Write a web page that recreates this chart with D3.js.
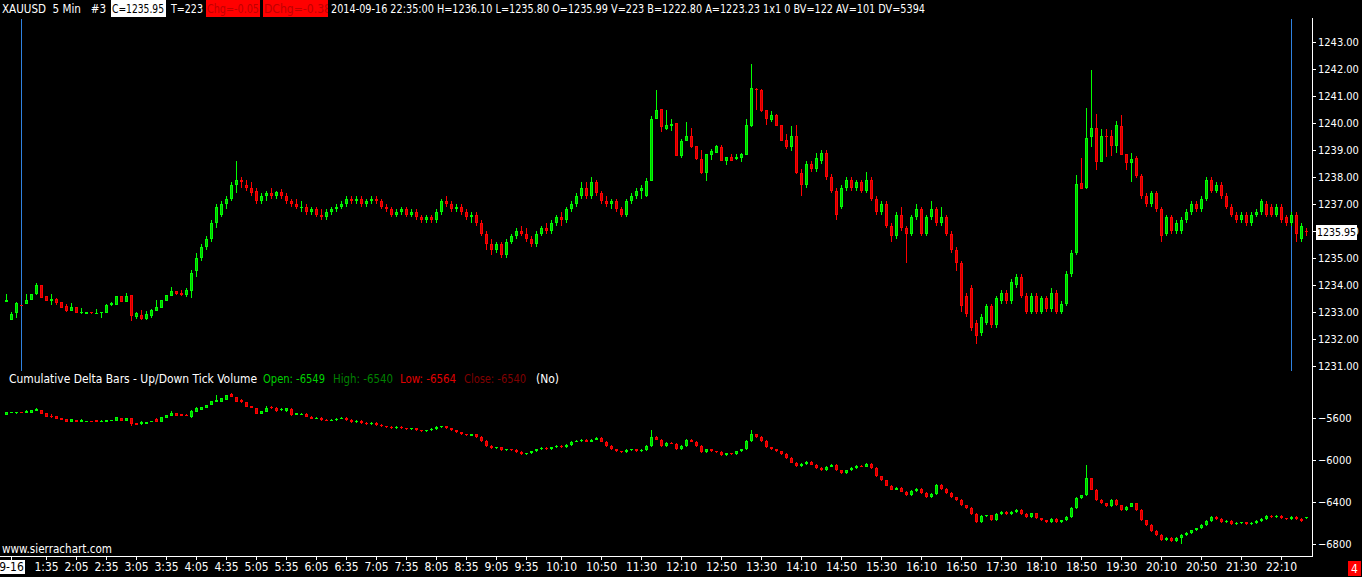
<!DOCTYPE html>
<html>
<head>
<meta charset="utf-8">
<script src="https://cdn.jsdelivr.net/npm/d3@7"></script>
<style>
  html, body { margin: 0; padding: 0; background: #000; overflow: hidden; }
  svg { display: block; }
  text { white-space: pre; }
</style>
</head>
<body>
<svg id="chart" width="1362" height="577"></svg>
<script>
// ---- data ----
const firstBarMinutes = 55;          // first bar is 0:55, 5 min bars
const barMinutes = 5;

// time axis labels: [bar time, label shown]
const timeTicks = [
  ["1:00", "9-16"], ["1:35", "1:35"], ["2:05", "2:05"], ["2:35", "2:35"], ["3:05", "3:05"],
  ["3:35", "3:35"], ["4:05", "4:05"], ["4:35", "4:35"], ["5:05", "5:05"], ["5:35", "5:35"],
  ["6:05", "6:05"], ["6:35", "6:35"], ["7:05", "7:05"], ["7:35", "7:35"], ["8:05", "8:05"],
  ["8:35", "8:35"], ["9:05", "9:05"], ["9:35", "9:35"], ["10:10", "10:10"], ["10:50", "10:50"],
  ["11:30", "11:30"], ["12:10", "12:10"], ["12:50", "12:50"], ["13:30", "13:30"], ["14:10", "14:10"],
  ["14:50", "14:50"], ["15:30", "15:30"], ["16:10", "16:10"], ["16:50", "16:50"], ["17:30", "17:30"],
  ["18:10", "18:10"], ["18:50", "18:50"], ["19:30", "19:30"], ["20:10", "20:10"], ["20:50", "20:50"],
  ["21:30", "21:30"], ["22:10", "22:10"]
];

const priceTicks = [1243, 1242, 1241, 1240, 1239, 1238, 1237, 1236, 1235, 1234, 1233, 1232, 1231];
const deltaTicks = [-5600, -6000, -6400, -6800];
const lastPrice = 1235.95;
const sessionLines = ["1:10", "22:20"];   // blue vertical markers

// XAUUSD 5 min bars: [open, high, low, close]
const priceBars = [
  [1233.36,1233.66,1233.36,1233.44],[1232.71,1232.99,1232.70,1232.92],[1232.96,1233.36,1232.77,1233.33],[1233.25,1233.26,1233.22,1233.23],
  [1233.30,1233.66,1233.30,1233.44],[1233.45,1233.66,1233.42,1233.66],[1233.65,1234.07,1233.64,1233.99],[1233.99,1234.00,1233.50,1233.52],
  [1233.59,1233.60,1233.40,1233.41],[1233.41,1233.66,1233.26,1233.47],[1233.49,1233.51,1233.25,1233.34],[1233.35,1233.36,1233.14,1233.15],
  [1233.21,1233.29,1232.99,1233.04],[1233.04,1233.32,1233.02,1233.17],[1233.17,1233.18,1232.96,1232.97],[1232.94,1233.13,1232.92,1232.99],
  [1232.93,1233.01,1232.92,1233.00],[1232.99,1233.00,1232.93,1232.94],[1232.94,1233.09,1232.93,1232.97],[1232.94,1233.00,1232.78,1232.99],
  [1232.97,1233.29,1232.94,1233.26],[1233.24,1233.35,1233.23,1233.33],[1233.26,1233.59,1233.25,1233.58],[1233.59,1233.60,1233.36,1233.37],
  [1233.37,1233.69,1233.35,1233.59],[1233.62,1233.63,1232.67,1232.86],[1232.82,1233.00,1232.72,1232.94],[1232.88,1233.07,1232.71,1232.72],
  [1232.72,1233.02,1232.71,1232.92],[1232.86,1233.09,1232.78,1233.06],[1233.04,1233.44,1233.03,1233.18],[1233.15,1233.45,1233.14,1233.44],
  [1233.41,1233.63,1233.40,1233.62],[1233.60,1233.92,1233.59,1233.77],[1233.77,1233.78,1233.64,1233.65],[1233.69,1233.81,1233.59,1233.62],
  [1233.62,1233.89,1233.56,1233.81],[1233.78,1234.55,1233.51,1234.43],
  [1234.50,1235.20,1234.30,1235.00],[1235.00,1235.50,1234.90,1235.40],[1235.40,1235.80,1235.30,1235.70],[1235.70,1236.40,1235.60,1236.30],
  [1236.30,1237.00,1236.10,1236.90],[1236.60,1237.10,1236.50,1237.00],[1237.00,1237.30,1236.80,1237.20],[1237.20,1237.80,1237.10,1237.70],
  [1237.70,1238.60,1237.40,1237.90],[1237.90,1238.00,1237.60,1237.80],[1237.70,1237.90,1237.50,1237.60],[1237.60,1237.80,1237.30,1237.40],
  [1237.50,1237.60,1237.00,1237.10],[1237.10,1237.40,1237.00,1237.30],[1237.30,1237.50,1237.10,1237.40],[1237.40,1237.60,1237.20,1237.30],
  [1237.30,1237.50,1237.20,1237.45],[1237.45,1237.55,1237.20,1237.30],[1237.30,1237.40,1237.00,1237.10],[1237.10,1237.20,1236.90,1237.00],
  [1237.00,1237.20,1236.80,1236.90],[1236.90,1237.10,1236.70,1236.90],[1236.90,1237.00,1236.60,1236.70],[1236.70,1236.90,1236.60,1236.80],
  [1236.80,1236.90,1236.50,1236.60],[1236.60,1236.80,1236.40,1236.50],[1236.50,1236.80,1236.40,1236.70],[1236.70,1236.90,1236.60,1236.80],
  [1236.80,1237.00,1236.70,1236.90],[1236.90,1237.10,1236.80,1237.00],[1237.00,1237.30,1236.90,1237.20],[1237.20,1237.30,1237.00,1237.10],
  [1237.10,1237.30,1237.00,1237.20],[1237.20,1237.30,1236.90,1237.00],[1237.00,1237.20,1236.90,1237.10],[1237.10,1237.30,1237.00,1237.20],
  [1237.20,1237.30,1237.00,1237.10],[1237.10,1237.20,1236.80,1236.90],[1236.90,1237.00,1236.70,1236.80],[1236.80,1236.90,1236.50,1236.60],
  [1236.60,1236.80,1236.50,1236.70],[1236.70,1236.90,1236.60,1236.80],[1236.80,1236.90,1236.50,1236.60],[1236.60,1236.80,1236.50,1236.70],
  [1236.70,1236.80,1236.40,1236.50],[1236.50,1236.60,1236.30,1236.40],[1236.40,1236.60,1236.30,1236.50],[1236.50,1236.60,1236.30,1236.40],
  [1236.40,1236.80,1236.30,1236.70],[1236.70,1237.20,1236.60,1237.10],[1237.10,1237.30,1236.90,1237.00],[1237.00,1237.10,1236.70,1236.80],
  [1236.80,1237.00,1236.70,1236.90],[1236.90,1237.00,1236.60,1236.70],[1236.70,1236.80,1236.40,1236.50],[1236.50,1236.70,1236.30,1236.60],
  [1236.60,1236.70,1236.20,1236.30],[1236.30,1236.40,1235.80,1235.90],[1235.90,1236.00,1235.30,1235.50],[1235.50,1235.70,1235.10,1235.30],
  [1235.30,1235.60,1235.20,1235.50],[1235.50,1235.60,1235.00,1235.10],[1235.10,1235.70,1235.00,1235.60],[1235.60,1235.90,1235.50,1235.80],
  [1235.80,1236.10,1235.70,1236.00],[1236.00,1236.20,1235.80,1235.90],[1235.90,1236.10,1235.60,1235.70],[1235.70,1235.80,1235.40,1235.50],
  [1235.50,1236.00,1235.40,1235.90],[1235.90,1236.20,1235.80,1236.10],[1236.10,1236.30,1235.90,1236.00],[1236.00,1236.40,1235.90,1236.30],
  [1236.30,1236.60,1236.20,1236.50],[1236.50,1236.70,1236.20,1236.40],[1236.40,1236.90,1236.30,1236.80],[1236.80,1237.10,1236.70,1237.00],
  [1237.00,1237.40,1236.90,1237.30],[1237.30,1237.80,1237.20,1237.60],[1237.60,1237.80,1237.20,1237.30],[1237.30,1238.00,1237.20,1237.80],
  [1237.80,1237.90,1237.30,1237.40],[1237.40,1237.50,1237.00,1237.10],[1237.10,1237.30,1236.90,1237.00],[1237.00,1237.20,1236.80,1237.10],
  [1237.10,1237.20,1236.70,1236.80],[1236.80,1236.90,1236.50,1236.60],[1236.60,1237.20,1236.50,1237.10],[1237.10,1237.40,1237.00,1237.30],
  [1237.30,1237.60,1237.20,1237.50],[1237.50,1237.70,1237.20,1237.60],
  [1237.30,1237.95,1237.25,1237.86],[1237.86,1240.27,1237.85,1240.15],[1240.17,1241.23,1240.15,1240.49],[1240.51,1240.53,1239.68,1239.85],
  [1239.79,1240.49,1239.75,1239.92],[1239.91,1240.15,1239.72,1239.97],[1239.99,1240.00,1238.78,1238.79],[1238.79,1239.40,1238.72,1239.33],
  [1239.35,1240.04,1239.34,1239.52],[1239.51,1239.82,1239.07,1239.13],[1239.16,1239.17,1238.63,1238.67],[1238.67,1239.00,1238.13,1238.14],
  [1238.14,1238.86,1237.86,1238.84],[1238.82,1239.04,1238.63,1238.98],[1238.90,1239.19,1238.89,1239.15],[1239.10,1239.19,1238.60,1238.61],
  [1238.61,1238.74,1238.45,1238.73],[1238.73,1238.86,1238.60,1238.61],[1238.66,1238.84,1238.63,1238.76],[1238.72,1238.88,1238.57,1238.84],
  [1238.82,1240.14,1238.81,1239.93],[1239.91,1242.19,1239.87,1241.29],[1241.27,1241.30,1240.49,1241.23],[1241.23,1241.27,1240.42,1240.46],
  [1240.49,1240.50,1239.93,1240.14],[1240.12,1240.45,1240.04,1240.30],[1240.30,1240.34,1239.90,1239.91],[1239.93,1239.94,1239.32,1239.35],
  [1239.37,1239.60,1239.03,1239.13],[1239.13,1239.89,1238.98,1239.52],[1239.52,1239.93,1238.13,1238.14],
  [1238.14,1238.30,1237.30,1237.70],[1237.70,1238.60,1237.60,1238.50],[1238.50,1238.60,1238.20,1238.30],[1238.30,1238.90,1238.20,1238.70],
  [1238.60,1239.00,1238.50,1238.90],[1238.90,1239.00,1237.90,1238.00],[1238.00,1238.10,1237.40,1237.50],[1237.50,1237.60,1236.40,1236.60],
  [1236.90,1237.70,1236.80,1237.60],[1237.60,1238.00,1237.50,1237.90],[1237.90,1238.00,1237.50,1237.60],[1237.60,1237.90,1237.50,1237.80],
  [1237.80,1237.90,1237.40,1237.50],[1237.50,1238.20,1237.40,1237.90],[1237.90,1238.00,1237.10,1237.20],[1237.20,1237.30,1236.60,1236.70],
  [1236.70,1237.10,1236.60,1237.00],[1237.00,1237.10,1236.10,1236.20],[1236.20,1236.30,1235.60,1235.80],[1235.80,1236.70,1235.70,1236.60],
  [1236.60,1236.90,1236.00,1236.10],[1236.10,1236.20,1234.80,1235.90],[1235.90,1236.60,1235.80,1236.50],[1236.50,1237.00,1236.40,1236.80],
  [1236.80,1236.90,1235.80,1235.90],[1235.90,1236.60,1235.80,1236.50],[1236.50,1237.10,1236.40,1236.80],[1236.80,1236.90,1236.20,1236.30],
  [1236.30,1236.90,1236.20,1236.50],[1236.50,1236.60,1235.80,1235.90],[1235.90,1236.00,1235.20,1235.30],[1235.30,1235.40,1234.50,1234.80],
  [1234.80,1234.90,1233.00,1233.20],[1233.60,1233.70,1232.80,1232.90],[1233.90,1234.00,1232.30,1232.40],[1232.60,1232.70,1231.80,1232.10],
  [1232.20,1232.90,1232.10,1232.80],[1232.60,1233.30,1232.50,1233.20],[1233.20,1233.30,1232.40,1232.50],[1232.50,1233.60,1232.40,1233.50],
  [1233.40,1233.80,1233.30,1233.70],[1233.70,1233.80,1233.30,1233.40],[1233.40,1234.20,1233.30,1234.10],[1234.00,1234.40,1233.90,1234.30],
  [1234.30,1234.40,1233.50,1233.60],[1233.60,1233.70,1232.90,1233.00],[1233.00,1233.70,1232.90,1233.60],[1233.60,1233.70,1232.90,1233.00],
  [1233.00,1233.60,1232.90,1233.50],[1233.50,1233.60,1233.00,1233.10],[1233.10,1233.90,1233.00,1233.70],[1233.70,1233.80,1232.90,1233.00],
  [1233.00,1233.40,1232.90,1233.30],[1233.30,1234.50,1233.20,1234.40],[1234.40,1235.30,1234.30,1235.20],
  [1235.20,1238.08,1235.10,1237.74],[1237.77,1238.72,1237.55,1237.56],[1237.58,1240.55,1237.57,1239.44],[1239.47,1241.97,1239.13,1239.81],
  [1239.81,1240.33,1238.26,1238.57],[1238.57,1239.78,1238.56,1239.52],[1239.52,1239.78,1238.76,1239.47],[1239.52,1239.75,1238.78,1239.16],
  [1239.16,1240.08,1238.90,1239.93],[1239.89,1240.30,1238.80,1238.82],[1238.86,1238.87,1238.26,1238.53],[1238.53,1238.88,1237.83,1238.67],
  [1238.72,1238.78,1237.98,1238.05],
  [1238.05,1238.10,1237.20,1237.30],[1237.30,1237.40,1236.90,1237.00],[1237.00,1237.50,1236.90,1237.40],[1237.40,1237.50,1236.70,1236.80],
  [1236.80,1236.90,1235.60,1235.80],[1235.90,1236.60,1235.80,1236.50],[1236.50,1236.60,1235.90,1236.00],[1236.00,1236.40,1235.90,1236.30],
  [1236.00,1236.50,1235.90,1236.40],[1236.40,1236.80,1236.30,1236.70],[1236.70,1237.10,1236.60,1237.00],[1237.00,1237.10,1236.70,1236.80],
  [1236.80,1237.30,1236.70,1237.20],[1237.20,1238.00,1237.10,1237.90],[1237.90,1238.00,1237.40,1237.50],[1237.50,1237.80,1237.40,1237.70],
  [1237.70,1237.80,1237.20,1237.30],[1237.30,1237.40,1236.80,1236.90],[1236.90,1237.00,1236.50,1236.60],[1236.60,1236.70,1236.30,1236.40],
  [1236.40,1236.70,1236.30,1236.60],[1236.60,1236.70,1236.20,1236.30],[1236.30,1236.70,1236.20,1236.60],[1236.60,1236.80,1236.50,1236.70],
  [1236.70,1237.20,1236.60,1237.10],[1237.00,1237.10,1236.50,1236.60],[1236.90,1237.00,1236.50,1236.60],[1236.60,1237.00,1236.50,1236.90],
  [1236.90,1237.00,1236.30,1236.40],[1236.50,1236.60,1236.20,1236.30],[1236.30,1236.70,1236.20,1236.60],[1236.60,1236.70,1235.60,1235.90],
  [1235.70,1236.30,1235.60,1236.20],[1235.99,1236.10,1235.80,1235.95]
];

// Cumulative delta bars: [open, high, low, close]
const deltaBars = [
  [-5572,-5548,-5573,-5549],[-5558,-5546,-5559,-5546],[-5551,-5546,-5565,-5546],[-5546,-5545,-5559,-5558],[-5558,-5527,-5559,-5536],
  [-5558,-5527,-5559,-5527],[-5534,-5511,-5535,-5520],[-5527,-5526,-5566,-5565],[-5558,-5557,-5592,-5591],[-5581,-5565,-5606,-5591],
  [-5581,-5580,-5613,-5612],[-5600,-5599,-5623,-5622],[-5612,-5611,-5639,-5638],[-5638,-5614,-5639,-5615],[-5622,-5621,-5639,-5638],
  [-5638,-5615,-5639,-5625],[-5638,-5627,-5639,-5628],[-5628,-5627,-5639,-5638],[-5625,-5624,-5645,-5644],[-5644,-5619,-5645,-5628],
  [-5644,-5618,-5645,-5619],[-5628,-5618,-5629,-5619],[-5628,-5595,-5629,-5596],[-5600,-5599,-5629,-5628],[-5628,-5602,-5629,-5603],
  [-5603,-5602,-5676,-5660],[-5650,-5649,-5670,-5669],[-5660,-5631,-5669,-5644],[-5663,-5637,-5664,-5638],[-5644,-5627,-5645,-5628],
  [-5612,-5603,-5645,-5644],[-5638,-5595,-5639,-5596],[-5600,-5573,-5601,-5574],[-5581,-5536,-5582,-5553],[-5558,-5557,-5582,-5581],
  [-5568,-5567,-5582,-5581],[-5574,-5568,-5588,-5587],[-5591,-5527,-5606,-5536],[-5543,-5499,-5544,-5511],[-5527,-5495,-5528,-5496],
  [-5511,-5479,-5512,-5480],[-5480,-5438,-5481,-5439],[-5448,-5385,-5449,-5432],[-5448,-5410,-5449,-5416],[-5429,-5384,-5430,-5385],
  [-5373,-5365,-5405,-5404],[-5404,-5403,-5449,-5448],[-5432,-5423,-5464,-5454],[-5454,-5453,-5497,-5496],[-5489,-5488,-5512,-5511],
  [-5511,-5510,-5569,-5568],[-5568,-5535,-5569,-5536],[-5549,-5489,-5550,-5511],[-5501,-5489,-5518,-5511],[-5511,-5501,-5543,-5536],
  [-5527,-5505,-5534,-5518],[-5536,-5505,-5543,-5511],[-5520,-5505,-5581,-5574],[-5574,-5557,-5575,-5558],
  [-5574,-5560,-5579,-5565],[-5565,-5560,-5598,-5593],[-5593,-5588,-5617,-5612],[-5612,-5598,-5617,-5603],[-5603,-5598,-5627,-5622],
  [-5622,-5617,-5636,-5631],[-5631,-5617,-5636,-5622],[-5622,-5607,-5627,-5612],[-5612,-5598,-5617,-5603],[-5603,-5598,-5627,-5622],
  [-5622,-5617,-5646,-5641],[-5641,-5626,-5646,-5631],[-5631,-5626,-5655,-5650],[-5650,-5645,-5665,-5660],[-5660,-5645,-5665,-5650],
  [-5650,-5645,-5674,-5669],[-5669,-5664,-5684,-5679],[-5679,-5674,-5693,-5688],[-5688,-5683,-5703,-5698],[-5698,-5683,-5703,-5688],
  [-5688,-5683,-5703,-5698],[-5698,-5693,-5712,-5707],[-5707,-5693,-5712,-5698],[-5698,-5693,-5722,-5717],[-5717,-5712,-5731,-5726],
  [-5726,-5712,-5731,-5717],[-5717,-5702,-5722,-5707],[-5707,-5683,-5712,-5688],[-5688,-5674,-5693,-5679],[-5679,-5674,-5703,-5698],
  [-5698,-5693,-5722,-5717],[-5717,-5712,-5741,-5736],[-5736,-5731,-5760,-5755],[-5755,-5750,-5769,-5764],[-5773,-5750,-5778,-5755],
  [-5755,-5750,-5788,-5783],[-5783,-5778,-5826,-5821],[-5821,-5816,-5873,-5868],[-5868,-5863,-5892,-5887],[-5887,-5873,-5892,-5878],
  [-5878,-5873,-5911,-5906],[-5906,-5892,-5911,-5897],[-5897,-5892,-5911,-5906],[-5906,-5901,-5930,-5925],[-5925,-5920,-5949,-5944],
  [-5944,-5930,-5949,-5935],[-5935,-5911,-5940,-5916],[-5916,-5892,-5921,-5897],[-5897,-5882,-5902,-5887],[-5887,-5882,-5902,-5897],
  [-5897,-5873,-5902,-5878],[-5878,-5863,-5883,-5868],[-5868,-5863,-5883,-5878],[-5878,-5854,-5883,-5859],[-5859,-5825,-5864,-5830],
  [-5830,-5816,-5835,-5821],[-5821,-5806,-5826,-5811],[-5811,-5806,-5835,-5830],[-5830,-5806,-5835,-5811],[-5811,-5787,-5816,-5792],
  [-5792,-5787,-5835,-5830],[-5830,-5825,-5873,-5868],[-5868,-5863,-5902,-5897],[-5897,-5892,-5921,-5916],[-5916,-5911,-5930,-5925],
  [-5925,-5901,-5930,-5906],[-5906,-5892,-5911,-5897],[-5897,-5892,-5921,-5916],[-5916,-5901,-5921,-5906],[-5906,-5863,-5911,-5868],
  [-5868,-5717,-5873,-5783],[-5783,-5778,-5816,-5811],[-5811,-5806,-5873,-5868],[-5868,-5835,-5873,-5840],[-5840,-5835,-5854,-5849],
  [-5849,-5844,-5902,-5897],[-5897,-5863,-5902,-5868],[-5868,-5806,-5873,-5811],[-5811,-5806,-5835,-5830],[-5830,-5825,-5873,-5868],
  [-5868,-5863,-5930,-5925],[-5925,-5892,-5930,-5897],[-5897,-5892,-5921,-5916],[-5916,-5911,-5930,-5925],[-5925,-5920,-5959,-5954],
  [-5954,-5930,-5959,-5935],[-5935,-5930,-5949,-5944],[-5944,-5911,-5949,-5916],[-5916,-5892,-5921,-5897],[-5897,-5816,-5902,-5821],
  [-5821,-5717,-5826,-5755],[-5755,-5750,-5788,-5783],[-5783,-5778,-5826,-5821],[-5821,-5816,-5883,-5878],[-5878,-5873,-5902,-5897],
  [-5897,-5892,-5921,-5916],[-5916,-5911,-5949,-5944],[-5944,-5939,-5987,-5982],[-5982,-5977,-6034,-6029],[-6029,-6024,-6063,-6058],
  [-6058,-6034,-6063,-6039],[-6039,-6015,-6044,-6020],[-6020,-6015,-6053,-6048],[-6048,-6043,-6082,-6077],[-6077,-6072,-6101,-6096],
  [-6096,-6062,-6101,-6067],[-6067,-6043,-6072,-6048],[-6048,-6043,-6101,-6096],[-6096,-6091,-6129,-6124],[-6124,-6091,-6129,-6096],
  [-6096,-6072,-6101,-6077],[-6077,-6053,-6082,-6058],[-6058,-6053,-6072,-6067],[-6067,-6034,-6072,-6039],[-6039,-6034,-6082,-6077],
  [-6077,-6072,-6158,-6153],[-6153,-6148,-6196,-6191],[-6191,-6186,-6252,-6247],[-6247,-6242,-6290,-6285],[-6285,-6261,-6290,-6266],
  [-6266,-6261,-6309,-6304],[-6304,-6299,-6338,-6333],[-6333,-6290,-6338,-6295],[-6295,-6271,-6300,-6276],[-6276,-6271,-6319,-6314],
  [-6314,-6309,-6357,-6352],[-6352,-6318,-6357,-6323],[-6323,-6233,-6328,-6238],[-6238,-6233,-6281,-6276],[-6276,-6271,-6319,-6314],
  [-6314,-6309,-6357,-6352],[-6352,-6347,-6385,-6380],[-6380,-6375,-6433,-6428],[-6428,-6423,-6461,-6456],[-6456,-6451,-6518,-6513],
  [-6513,-6508,-6594,-6589],[-6589,-6527,-6594,-6532],[-6532,-6518,-6537,-6523],[-6523,-6518,-6575,-6570],[-6570,-6508,-6575,-6513],
  [-6513,-6489,-6518,-6494],[-6494,-6489,-6518,-6513],[-6513,-6489,-6518,-6494],[-6494,-6470,-6499,-6475],[-6475,-6470,-6518,-6513],
  [-6513,-6508,-6546,-6541],[-6541,-6499,-6546,-6504],[-6504,-6499,-6556,-6551],[-6551,-6546,-6575,-6570],[-6570,-6565,-6594,-6589],
  [-6589,-6555,-6594,-6560],[-6560,-6555,-6594,-6589],[-6589,-6565,-6594,-6570],[-6570,-6536,-6575,-6541],[-6541,-6451,-6546,-6456],
  [-6456,-6356,-6461,-6361],[-6361,-6328,-6366,-6333],[-6333,-6048,-6338,-6172],[-6172,-6167,-6290,-6285],[-6285,-6280,-6385,-6380],
  [-6380,-6375,-6414,-6409],[-6409,-6404,-6442,-6437],[-6437,-6375,-6442,-6380],[-6380,-6375,-6433,-6428],[-6428,-6423,-6480,-6475],
  [-6475,-6441,-6480,-6446],[-6446,-6404,-6451,-6409],[-6409,-6404,-6480,-6475],[-6475,-6470,-6575,-6570],[-6570,-6565,-6622,-6617],
  [-6617,-6612,-6679,-6674],[-6674,-6669,-6717,-6712],[-6712,-6707,-6764,-6759],[-6759,-6735,-6764,-6740],[-6740,-6735,-6774,-6769],
  [-6769,-6735,-6774,-6740],[-6740,-6707,-6793,-6712],[-6712,-6688,-6717,-6693],[-6693,-6660,-6698,-6665],[-6665,-6641,-6670,-6646],
  [-6646,-6612,-6651,-6617],[-6617,-6574,-6622,-6579],[-6579,-6536,-6584,-6541],[-6541,-6536,-6565,-6560],[-6560,-6555,-6594,-6589],
  [-6589,-6574,-6594,-6579],[-6579,-6574,-6613,-6608],[-6608,-6593,-6613,-6598],[-6598,-6584,-6603,-6589],[-6589,-6584,-6613,-6608],
  [-6608,-6593,-6613,-6598],[-6598,-6574,-6603,-6579],[-6579,-6555,-6584,-6560],[-6560,-6527,-6565,-6532],[-6532,-6527,-6546,-6541],
  [-6541,-6527,-6546,-6532],[-6532,-6527,-6556,-6551],[-6551,-6546,-6565,-6560],[-6560,-6536,-6565,-6541],[-6541,-6536,-6565,-6560],
  [-6560,-6555,-6584,-6579],[-6549,-6540,-6564,-6540]
];

// header / study title texts
const headerLeft = "XAUUSD  5 Min   #3";
const headerClose = "C=1235.95";
const headerTicks = "T=223";
const headerChg = "Chg=-0.05";
const headerDChg = "DChg=-0.38";
const headerRest = "2014-09-16 22:35:00 H=1236.10 L=1235.80 O=1235.99 V=223 B=1222.80 A=1223.23 1x1 0 BV=122 AV=101 DV=5394";
const studyTitle = [
  ["Cumulative Delta Bars - Up/Down Tick Volume", "#ffffff"],
  ["Open: -6549", "#00d000"],
  ["High: -6540", "#008000"],
  ["Low: -6564", "#e00000"],
  ["Close: -6540", "#800000"],
  ["(No)", "#ffffff"]
];

// ---- drawing ----
const W = 1362, H = 577;
const FONT = "'DejaVu Sans Condensed', 'DejaVu Sans', sans-serif";
const svg = d3.select("#chart").attr("shape-rendering", "crispEdges");
svg.append("rect").attr("width", W).attr("height", H).attr("fill", "#000");

function toMinutes(t) { const p = t.split(":"); return +p[0] * 60 + +p[1]; }
function barIndex(t) { return (toMinutes(t) - firstBarMinutes) / barMinutes; }

const n = priceBars.length;
const x = d3.scaleLinear().domain([0, n - 1]).range([6, 1306]);
const yPrice = d3.scaleLinear().domain([1231, 1243]).range([365.7, 42.3]);
const yDelta = d3.scaleLinear().domain([-6800, -5600]).range([544.3, 417.7]);

const axisX = 1312;

// blue session markers
sessionLines.forEach(t => {
  const xx = Math.round(x(barIndex(t)));
  svg.append("rect").attr("x", xx).attr("y", 19).attr("width", 1).attr("height", 352)
    .attr("fill", "#2f82e0");
});

function drawCandles(data, y) {
  const g = svg.append("g");
  data.forEach((d, i) => {
    const [o, h, l, c] = d;
    const up = c >= o;
    const col = up ? "#00ff00" : "#ff0000";
    const inner = up ? "#00c000" : "#c80000";
    const cx = Math.round(x(i));
    g.append("rect").attr("x", cx).attr("width", 1)
      .attr("y", Math.round(y(h))).attr("height", Math.max(1, Math.round(y(l)) - Math.round(y(h))))
      .attr("fill", col);
    const top = Math.round(y(Math.max(o, c)));
    const bot = Math.round(y(Math.min(o, c)));
    const hgt = Math.max(1, bot - top);
    g.append("rect").attr("x", cx - 1).attr("y", top).attr("width", 3).attr("height", hgt).attr("fill", col);
    if (hgt > 2) {
      g.append("rect").attr("x", cx).attr("y", top + 1).attr("width", 1).attr("height", hgt - 2).attr("fill", inner);
    }
  });
}
drawCandles(priceBars, yPrice);
drawCandles(deltaBars, yDelta);

// right axes
function styleAxis(g) {
  g.select(".domain").remove();
  g.selectAll(".tick line").attr("stroke", "#fff");
  g.selectAll(".tick text").attr("fill", "#fff").attr("font-family", FONT).attr("font-size", "11px");
}
svg.append("g").attr("transform", `translate(${axisX},0)`)
  .call(d3.axisRight(yPrice).tickValues(priceTicks).tickFormat(d3.format(".2f")).tickSize(4).tickPadding(2))
  .call(styleAxis);
svg.append("g").attr("transform", `translate(${axisX},0)`)
  .call(d3.axisRight(yDelta).tickValues(deltaTicks).tickFormat(d => d3.format("d")(d)).tickSize(4).tickPadding(2))
  .call(styleAxis);

// last price box
const ly = Math.round(yPrice(lastPrice));
svg.append("rect").attr("x", 1316).attr("y", ly - 7).attr("width", 41).attr("height", 15).attr("fill", "#fff");
svg.append("text").attr("x", 1317).attr("y", ly + 4).attr("fill", "#000")
  .attr("font-family", FONT).attr("font-size", "11px")
  .attr("textLength", 39).attr("lengthAdjust", "spacingAndGlyphs").text(d3.format(".2f")(lastPrice));

// frame lines
svg.append("rect").attr("x", axisX).attr("y", 18).attr("width", 1).attr("height", 539).attr("fill", "#fff");
svg.append("rect").attr("x", 0).attr("y", 556).attr("width", axisX + 1).attr("height", 1).attr("fill", "#fff");

// time axis
const xAxis = d3.axisBottom(x)
  .tickValues(timeTicks.map(t => barIndex(t[0])))
  .tickFormat((d, i) => timeTicks[i][1])
  .tickSize(3).tickPadding(2);
const gx = svg.append("g").attr("transform", "translate(0,557)").call(xAxis);
gx.select(".domain").remove();
gx.selectAll(".tick line").attr("stroke", "#fff");
gx.selectAll(".tick text").attr("fill", "#fff").attr("font-family", FONT).attr("font-size", "12px");
// date label box
const firstTick = gx.select(".tick");
const ftText = firstTick.select("text");
const bb = ftText.node().getBBox();
firstTick.insert("rect", "text").attr("x", bb.x - 1).attr("y", bb.y).attr("width", bb.width + 2).attr("height", bb.height)
  .attr("fill", "#fff");
ftText.attr("fill", "#000");

// header
const hdr = svg.append("g").attr("font-family", FONT).attr("font-size", "12px");
function hText(tx, xx, fill, len) {
  const t = hdr.append("text").attr("x", xx).attr("y", 13).attr("fill", fill).text(tx);
  if (len) t.attr("textLength", len).attr("lengthAdjust", "spacingAndGlyphs");
  return t;
}
hText(headerLeft, 2, "#fff", 104);
hdr.append("rect").attr("x", 111).attr("y", 0).attr("width", 55).attr("height", 17).attr("fill", "#fff");
hText(headerClose, 112, "#000", 52);
hText(headerTicks, 171, "#fff", 32);
hdr.append("rect").attr("x", 206).attr("y", 0).attr("width", 54).attr("height", 17).attr("fill", "#ff0000");
hText(headerChg, 207, "#c00000", 52);
hdr.append("clipPath").attr("id", "dchgClip").append("rect").attr("x", 263).attr("y", 0).attr("width", 65).attr("height", 17);
hdr.append("rect").attr("x", 263).attr("y", 0).attr("width", 65).attr("height", 17).attr("fill", "#ff0000");
hText(headerDChg, 264, "#c00000", 67).attr("clip-path", "url(#dchgClip)");
hText(headerRest, 331, "#fff", 594);

// study title
const stX = [9, 263, 333, 400, 464, 536];
const stLen = [248, 62, 60, 56, 62, 23];
studyTitle.forEach((s, i) => {
  svg.append("text").attr("x", stX[i]).attr("y", 383).attr("fill", s[1])
    .attr("font-family", FONT).attr("font-size", "12px")
    .attr("textLength", stLen[i]).attr("lengthAdjust", "spacingAndGlyphs").text(s[0]);
});

// footer
svg.append("text").attr("x", 2).attr("y", 553).attr("fill", "#fff")
  .attr("font-family", FONT).attr("font-size", "12px")
  .attr("textLength", 110).attr("lengthAdjust", "spacingAndGlyphs").text("www.sierrachart.com");
svg.append("rect").attr("x", 1348).attr("y", 561).attr("width", 13).attr("height", 15).attr("fill", "#ff0000");
svg.append("text").attr("x", 1354.5).attr("y", 573).attr("text-anchor", "middle").attr("fill", "#fff")
  .attr("font-family", FONT).attr("font-size", "12px").text("4");
</script>
</body>
</html>
